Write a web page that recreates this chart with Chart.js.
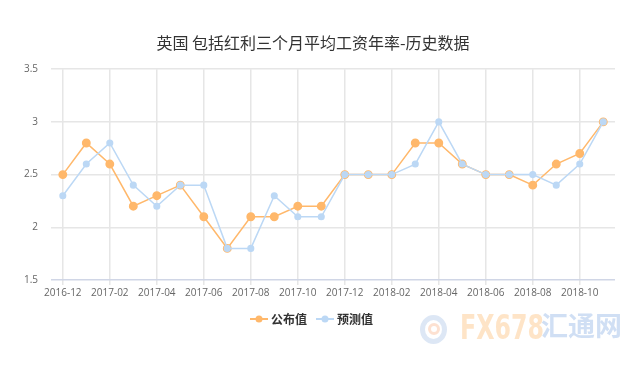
<!DOCTYPE html>
<html><head><meta charset="utf-8">
<script src="https://cdn.jsdelivr.net/npm/chart.js@4/dist/chart.umd.min.js"></script>
<style>
html,body{margin:0;padding:0;background:#fff;}
#wrap{position:relative;width:640px;height:365px;}
.wm{position:absolute;white-space:nowrap;line-height:1;}
</style>
</head><body>
<div id="wrap"><canvas id="c" width="640" height="365"></canvas>
<div class="wm" style="left:420px;top:315px;width:27px;height:29px;border-radius:50%;border:5px solid rgba(170,195,230,0.4);box-sizing:border-box;"></div>
<div class="wm" style="left:428px;top:323px;width:12px;height:12px;border-radius:50%;border:3px solid rgba(250,180,140,0.4);box-sizing:border-box;"></div>
<div class="wm" id="fx" style="left:460px;top:311px;font-family:'DejaVu Sans',sans-serif;font-size:33px;font-weight:bold;color:rgba(253,195,130,0.45);transform-origin:0 0;transform:scaleX(0.72);">FX678</div>
<div class="wm" style="left:541px;top:311px;font-family:'Noto Sans CJK SC',sans-serif;font-size:27px;font-weight:bold;color:rgba(150,185,230,0.45);">汇通网</div>
</div>
<script>
const categories = ["2016-12","2017-01","2017-02","2017-03","2017-04","2017-05","2017-06","2017-07","2017-08","2017-09","2017-10","2017-11","2017-12","2018-01","2018-02","2018-03","2018-04","2018-05","2018-06","2018-07","2018-08","2018-09","2018-10","2018-11"];
const actual   = [2.5,2.8,2.6,2.2,2.3,2.4,2.1,1.8,2.1,2.1,2.2,2.2,2.5,2.5,2.5,2.8,2.8,2.6,2.5,2.5,2.4,2.6,2.7,3.0];
const forecast = [2.3,2.6,2.8,2.4,2.2,2.4,2.4,1.8,1.8,2.3,2.1,2.1,2.5,2.5,2.5,2.6,3.0,2.6,2.5,2.5,2.5,2.4,2.6,3.0];
const yTicks = [1.5,2,2.5,3,3.5];
const titleText = "英国 包括红利三个月平均工资年率-历史数据";
const seriesNames = ["公布值","预测值"];

const orange = "#ffb86b", blue = "#bcd8f5";
function legendIcon(color, r) {
  const cv = document.createElement('canvas');
  cv.width = 18; cv.height = 10;
  const g = cv.getContext('2d');
  g.strokeStyle = color; g.lineWidth = 2;
  g.beginPath(); g.moveTo(0, 5); g.lineTo(18, 5); g.stroke();
  g.fillStyle = color;
  g.beginPath(); g.arc(9, 5, r, 0, Math.PI * 2); g.fill();
  return cv;
}
const icons = [legendIcon(orange, 3.5), legendIcon(blue, 3.5)];

new Chart(document.getElementById('c'), {
  type: 'line',
  data: {
    labels: categories,
    datasets: [
      {label: seriesNames[0], data: actual, borderColor: orange, backgroundColor: orange,
       pointBackgroundColor: orange, pointBorderColor: orange, pointRadius: 3.7, borderWidth: 1.5, tension: 0, order: 2},
      {label: seriesNames[1], data: forecast, borderColor: blue, backgroundColor: blue,
       pointBackgroundColor: blue, pointBorderColor: blue, pointRadius: 2.8, borderWidth: 1.5, tension: 0, order: 1}
    ]
  },
  options: {
    responsive: false, animation: false,
    layout: {padding: {left: 11, right: 25, top: 0, bottom: 30}},
    plugins: {
      title: {display: true, text: titleText, color: '#333', font: {family: "'Noto Sans CJK SC', sans-serif", size: 16, weight: 'normal'}, padding: {top: 33, bottom: 17}},
      legend: {position: 'bottom', labels: {usePointStyle: true, color: '#333',
        sort: (a, b) => a.datasetIndex - b.datasetIndex,
        generateLabels: (chart) => chart.data.datasets.map((ds, i) => ({
          text: ds.label, datasetIndex: i, pointStyle: icons[i], fontColor: '#333',
          fillStyle: ds.borderColor, strokeStyle: ds.borderColor, lineWidth: 0, hidden: false
        })),
        font: {family: "'Noto Sans CJK SC', sans-serif", size: 12, weight: 'bold'}, padding: 12}},
      tooltip: {enabled: false}
    },
    scales: {
      x: {
        offset: true,
        grid: {offset: false, color: (ctx) => (ctx.index % 2 === 0 ? '#e6e6e6' : 'rgba(0,0,0,0)'), lineWidth: 1.5, drawTicks: true, tickLength: 5},
        border: {display: false},
        ticks: {autoSkip: false, maxRotation: 0, color: '#666', font: {family: "'Open Sans', sans-serif", size: 10}, padding: 2,
          callback: function(v, i){ return i % 2 === 0 ? this.getLabelForValue(v) : ''; }}
      },
      y: {
        min: 1.5, max: 3.5,
        afterBuildTicks: (ax) => { ax.ticks = yTicks.map(v => ({value: v})); },
        grid: {color: (ctx) => ctx.tick && ctx.tick.value === 1.5 ? '#d0d6e6' : '#e6e6e6', lineWidth: 1.5, drawTicks: false},
        border: {display: false},
        ticks: {color: '#666', font: {family: "'Open Sans', sans-serif", size: 10}, padding: 13, callback: (v) => String(v)}
      }
    }
  }
});
</script>
</body></html>
